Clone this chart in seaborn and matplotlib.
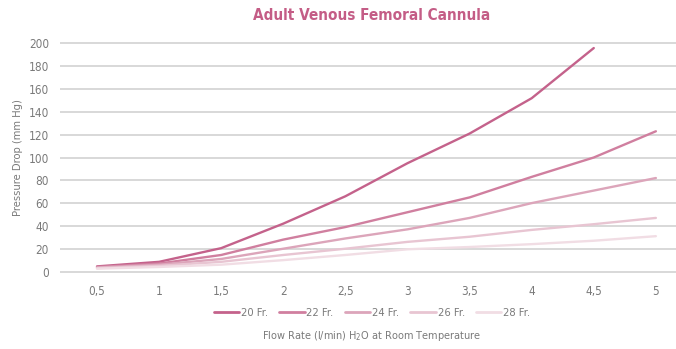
import matplotlib
matplotlib.use("Agg")
import matplotlib.pyplot as plt
import seaborn as sns
import pandas as pd
import numpy as np

# Flow rate categories (l/min) and their printed labels
flow_rates = [0.5, 1.0, 1.5, 2.0, 2.5, 3.0, 3.5, 4.0, 4.5, 5.0]
flow_labels = ["0,5", "1", "1,5", "2", "2,5", "3", "3,5", "4", "4,5", "5"]

# Pressure drop (mm Hg) per cannula size
p_20fr = [4.5, 8.5, 20.5, 42, 66, 95, 121, 152, 196, np.nan]
p_22fr = [4, 7, 14.5, 28, 39, 52, 65, 83, 100, 123]
p_24fr = [3.5, 6, 11, 20, 29, 37, 47, 60, 71, 82]
p_26fr = [3, 5, 8.5, 14.5, 20, 26, 30.5, 36.5, 41.5, 47]
p_28fr = [2.5, 4, 6, 10, 14.5, 19.5, 21.5, 24, 27, 31]

sizes = ["20 Fr.", "22 Fr.", "24 Fr.", "26 Fr.", "28 Fr."]
colors = ["#c4628b", "#d07f9f", "#dca5ba", "#e8c5d2", "#f1dde4"]

y_ticks = list(range(0, 201, 20))

series = [p_20fr, p_22fr, p_24fr, p_26fr, p_28fr]
df = pd.DataFrame(
    [(x, v, s) for s, vals in zip(sizes, series) for x, v in zip(flow_rates, vals)],
    columns=["flow", "pressure", "size"],
).dropna()

sns.set_style("white")
plt.rcParams["font.family"] = ["DejaVu Sans"]
plt.rcParams["font.stretch"] = "condensed"
plt.rcParams["mathtext.fontset"] = "dejavusans"

fig = plt.figure(figsize=(6.76, 3.49), dpi=100)
ax = fig.add_axes([60 / 676, 75.2 / 349, 1 - 60 / 676, 232.6 / 349])

sns.lineplot(
    data=df, x="flow", y="pressure", hue="size", hue_order=sizes,
    palette=colors, linewidth=1.7, ax=ax, legend=False, sort=False,
)

ax.set_xlim(0.202, 5.162)
ax.set_ylim(-2, 202)
ax.set_xticks(flow_rates)
ax.set_xticklabels(flow_labels)
ax.set_yticks(y_ticks)
ax.tick_params(axis="both", length=0, labelsize=8.5, colors="#7a7a7a")
ax.tick_params(axis="x", pad=8)
ax.tick_params(axis="y", pad=8)
ax.grid(axis="y", color="#d6d6d6", linewidth=1.3)
ax.grid(axis="x", visible=False)
ax.set_axisbelow(True)
for sp in ax.spines.values():
    sp.set_visible(False)

ax.set_ylabel("Pressure Drop (mm Hg)", fontsize=8, color="#7a7a7a", labelpad=4)
ax.set_xlabel("")

fig.text(372 / 676, 1 - 16 / 349, "Adult Venous Femoral Cannula",
         ha="center", va="center", fontsize=11, fontweight="bold", color="#c45d86")

fig.text(372 / 676, 1 - 336 / 349, r"Flow Rate (l/min) H$_2$O at Room Temperature",
         ha="center", va="center", fontsize=7.8, color="#7a7a7a")

handles = [plt.Line2D([], [], color=c, linewidth=2.0) for c in colors]
fig.legend(handles, sizes, loc="center", bbox_to_anchor=(372 / 676, 1 - 313 / 349),
           ncol=5, frameon=False, fontsize=8, labelcolor="#7a7a7a",
           handlelength=2.3, handletextpad=0.15, columnspacing=1.0)

fig.savefig("out.png", dpi=100)
